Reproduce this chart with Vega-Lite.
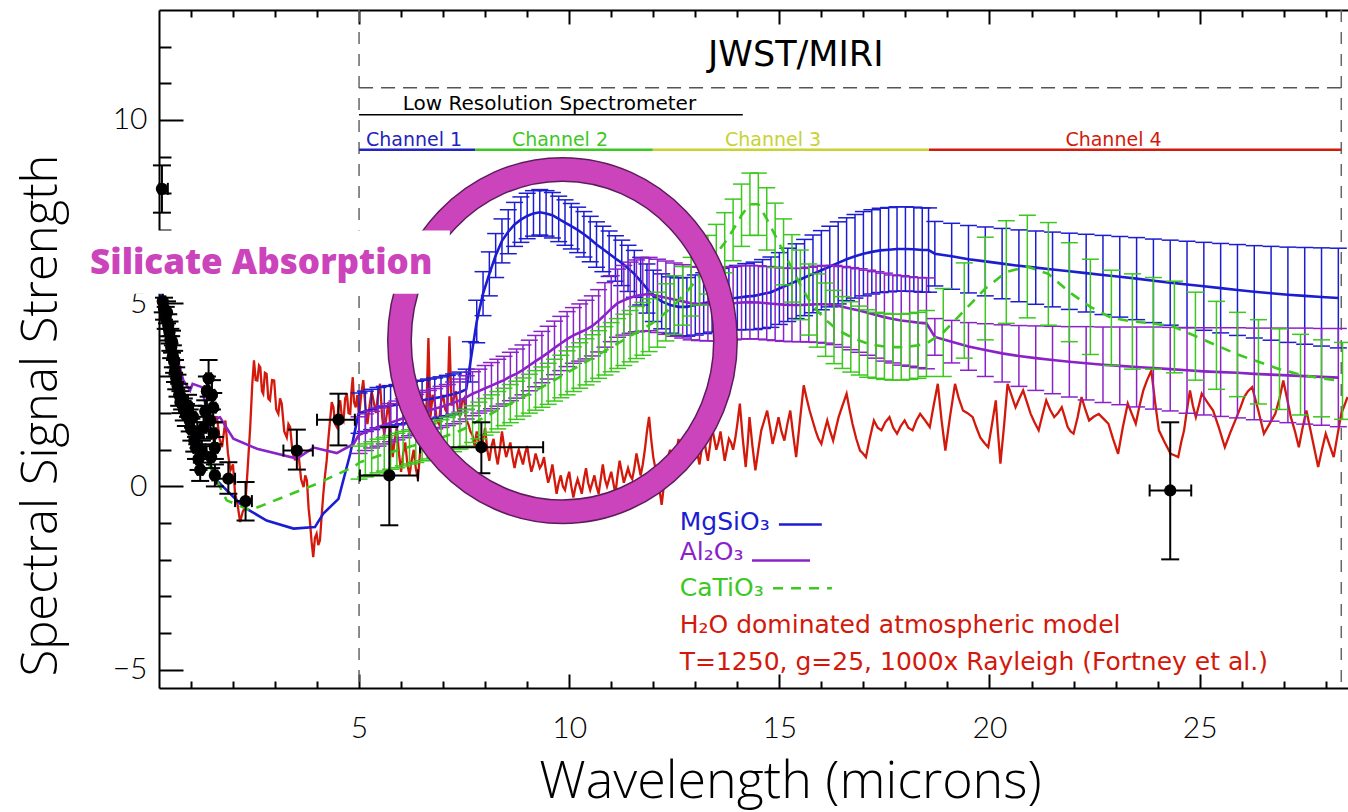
{
"$schema":"https://vega.github.io/schema/vega-lite/v6.json",
"width":1189,"height":678,
"autosize":{"type":"none"},
"padding":{"left":159,"top":10,"right":0,"bottom":124},
"background":"white",
"config":{"view":{"stroke":null},"axis":{"grid":false}},
"resolve":{"axis":{"x":"independent","y":"independent"}},
"datasets":{
"vl":[{"x":5},{"x":28.37}],
"ring":[{"x":9.84,"y":3.98}],
"box":[{"x":-1.59,"x2":7.16,"y":5.26,"y2":6.98}],
"sil":[{"x":-1.4,"y":6.1,"t":"Silicate Absorption"}],
"segs":[
{"k":"dash","x":5,"x2":28.37,"y":10.88},
{"k":"lrs","x":5,"x2":14.13,"y":10.14},
{"k":"c1","x":5,"x2":7.76,"y":9.19},
{"k":"c2","x":7.76,"x2":11.99,"y":9.19},
{"k":"c3","x":11.99,"x2":18.56,"y":9.19},
{"k":"c4","x":18.56,"x2":28.37,"y":9.19},
{"k":"b","x":14.99,"x2":16.01,"y":-1.04},
{"k":"p","x":14.35,"x2":15.73,"y":-2.02},
{"k":"g","x":14.85,"x2":16.25,"y":-2.78}
],
"notes":[
{"k":"title","x":15.39,"y":11.78,"t":"JWST/MIRI"},
{"k":"lrs","x":9.53,"y":10.44,"t":"Low Resolution Spectrometer"},
{"k":"c1","x":6.31,"y":9.45,"t":"Channel 1"},
{"k":"c2","x":9.78,"y":9.45,"t":"Channel 2"},
{"k":"c3","x":14.85,"y":9.45,"t":"Channel 3"},
{"k":"c4","x":22.95,"y":9.45,"t":"Channel 4"},
{"k":"b","x":12.63,"y":-0.98,"t":"MgSiO₃"},
{"k":"p","x":12.63,"y":-1.8,"t":"Al₂O₃"},
{"k":"g","x":12.63,"y":-2.76,"t":"CaTiO₃"},
{"k":"r","x":12.63,"y":-3.79,"t":"H₂O dominated atmospheric model"},
{"k":"r","x":12.63,"y":-4.8,"t":"T=1250, g=25, 1000x Rayleigh (Fortney et al.)"}
],
"obs":[
{"x":0.31,"y":8.12,"ylo":7.47,"yhi":8.76,"xlo":0.25,"xhi":0.45},
{"x":0.33,"y":5.05,"ylo":4.75,"yhi":5.35,"xlo":0.27,"xhi":0.39},
{"x":0.36,"y":4.85,"ylo":4.55,"yhi":5.15,"xlo":0.3,"xhi":0.42},
{"x":0.4,"y":4.6,"ylo":4.3,"yhi":4.9,"xlo":0.34,"xhi":0.46},
{"x":0.43,"y":4.75,"ylo":4.45,"yhi":5.05,"xlo":0.37,"xhi":0.49},
{"x":0.46,"y":4.4,"ylo":4.1,"yhi":4.7,"xlo":0.4,"xhi":0.52},
{"x":0.49,"y":4.2,"ylo":3.9,"yhi":4.5,"xlo":0.43,"xhi":0.55},
{"x":0.51,"y":4.0,"ylo":3.7,"yhi":4.3,"xlo":0.45,"xhi":0.57},
{"x":0.53,"y":3.8,"ylo":3.5,"yhi":4.1,"xlo":0.47,"xhi":0.59},
{"x":0.55,"y":3.95,"ylo":3.65,"yhi":4.25,"xlo":0.49,"xhi":0.61},
{"x":0.57,"y":3.55,"ylo":3.25,"yhi":3.85,"xlo":0.51,"xhi":0.63},
{"x":0.6,"y":3.4,"ylo":3.1,"yhi":3.7,"xlo":0.54,"xhi":0.66},
{"x":0.62,"y":3.15,"ylo":2.85,"yhi":3.45,"xlo":0.56,"xhi":0.68},
{"x":0.65,"y":2.95,"ylo":2.65,"yhi":3.25,"xlo":0.59,"xhi":0.71},
{"x":0.68,"y":2.75,"ylo":2.45,"yhi":3.05,"xlo":0.62,"xhi":0.74},
{"x":0.72,"y":2.5,"ylo":2.2,"yhi":2.8,"xlo":0.66,"xhi":0.78},
{"x":0.75,"y":2.3,"ylo":2.0,"yhi":2.6,"xlo":0.69,"xhi":0.81},
{"x":0.79,"y":2.4,"ylo":2.1,"yhi":2.7,"xlo":0.73,"xhi":0.85},
{"x":0.83,"y":2.1,"ylo":1.8,"yhi":2.4,"xlo":0.77,"xhi":0.89},
{"x":0.88,"y":1.95,"ylo":1.65,"yhi":2.25,"xlo":0.82,"xhi":0.94},
{"x":0.93,"y":2.2,"ylo":1.9,"yhi":2.5,"xlo":0.87,"xhi":0.99},
{"x":0.97,"y":1.8,"ylo":1.5,"yhi":2.1,"xlo":0.91,"xhi":1.03},
{"x":1.01,"y":1.55,"ylo":1.25,"yhi":1.85,"xlo":0.95,"xhi":1.07},
{"x":1.05,"y":1.9,"ylo":1.6,"yhi":2.2,"xlo":0.99,"xhi":1.11},
{"x":1.08,"y":1.25,"ylo":0.95,"yhi":1.55,"xlo":1.02,"xhi":1.14},
{"x":1.12,"y":1.05,"ylo":0.75,"yhi":1.35,"xlo":1.06,"xhi":1.18},
{"x":1.15,"y":1.45,"ylo":1.15,"yhi":1.75,"xlo":1.09,"xhi":1.21},
{"x":1.18,"y":0.75,"ylo":0.45,"yhi":1.05,"xlo":1.12,"xhi":1.24},
{"x":1.22,"y":0.45,"ylo":0.15,"yhi":0.75,"xlo":1.16,"xhi":1.28},
{"x":1.26,"y":0.95,"ylo":0.65,"yhi":1.25,"xlo":1.2,"xhi":1.32},
{"x":1.3,"y":1.6,"ylo":1.3,"yhi":1.9,"xlo":1.24,"xhi":1.36},
{"x":1.34,"y":2.05,"ylo":1.75,"yhi":2.35,"xlo":1.28,"xhi":1.4},
{"x":1.38,"y":2.6,"ylo":2.2,"yhi":3.0,"xlo":1.32,"xhi":1.44},
{"x":1.42,"y":2.95,"ylo":2.45,"yhi":3.45,"xlo":1.36,"xhi":1.48},
{"x":1.46,"y":1.8,"ylo":1.5,"yhi":2.1,"xlo":1.4,"xhi":1.52},
{"x":1.48,"y":0.8,"ylo":0.5,"yhi":1.1,"xlo":1.42,"xhi":1.54},
{"x":1.5,"y":2.5,"ylo":2.1,"yhi":2.9,"xlo":1.44,"xhi":1.56},
{"x":1.53,"y":2.15,"ylo":1.75,"yhi":2.55,"xlo":1.47,"xhi":1.59},
{"x":1.54,"y":1.45,"ylo":1.15,"yhi":1.75,"xlo":1.48,"xhi":1.6},
{"x":1.57,"y":1.05,"ylo":0.75,"yhi":1.35,"xlo":1.51,"xhi":1.63},
{"x":1.57,"y":0.3,"ylo":0.0,"yhi":0.6,"xlo":1.51,"xhi":1.63},
{"x":1.89,"y":0.21,"ylo":-0.2,"yhi":0.66,"xlo":1.61,"xhi":2.05},
{"x":2.3,"y":-0.4,"ylo":-0.93,"yhi":0.12,"xlo":2.05,"xhi":2.45},
{"x":3.52,"y":0.98,"ylo":0.46,"yhi":1.55,"xlo":3.2,"xhi":3.9},
{"x":4.51,"y":1.82,"ylo":1.12,"yhi":2.53,"xlo":4.0,"xhi":4.9},
{"x":5.72,"y":0.3,"ylo":-1.06,"yhi":1.62,"xlo":5.02,"xhi":6.4},
{"x":7.91,"y":1.07,"ylo":0.36,"yhi":1.75,"xlo":6.45,"xhi":9.38},
{"x":24.3,"y":-0.11,"ylo":-1.99,"yhi":1.75,"xlo":23.81,"xhi":24.8}
],
"red":[
{"x":1.55,"y":1.9},{"x":1.62,"y":1.89},{"x":1.68,"y":1.3},{"x":1.74,"y":1.07},{"x":1.82,"y":1.8},{"x":1.88,"y":0.9},{"x":1.94,"y":0.44},{"x":2.0,"y":0.6},{"x":2.05,"y":-0.2},{"x":2.11,"y":-0.5},{"x":2.17,"y":-0.97},{"x":2.23,"y":-0.7},{"x":2.29,"y":-0.56},{"x":2.35,"y":0.5},{"x":2.41,"y":1.62},{"x":2.46,"y":2.8},{"x":2.5,"y":3.44},{"x":2.54,"y":2.9},{"x":2.58,"y":2.89},{"x":2.62,"y":3.3},{"x":2.65,"y":3.25},{"x":2.69,"y":2.6},{"x":2.72,"y":2.53},{"x":2.76,"y":3.1},{"x":2.8,"y":3.07},{"x":2.84,"y":2.4},{"x":2.88,"y":2.35},{"x":2.93,"y":2.9},{"x":2.98,"y":2.89},{"x":3.03,"y":2.1},{"x":3.08,"y":1.98},{"x":3.12,"y":2.4},{"x":3.16,"y":2.26},{"x":3.22,"y":1.5},{"x":3.28,"y":1.34},{"x":3.32,"y":1.7},{"x":3.36,"y":1.62},{"x":3.42,"y":0.9},{"x":3.48,"y":0.71},{"x":3.52,"y":1.0},{"x":3.56,"y":0.89},{"x":3.62,"y":0.2},{"x":3.68,"y":-0.02},{"x":3.72,"y":0.3},{"x":3.76,"y":0.16},{"x":3.8,"y":-0.6},{"x":3.83,"y":-0.93},{"x":3.87,"y":-1.5},{"x":3.91,"y":-1.93},{"x":3.95,"y":-1.4},{"x":3.99,"y":-1.29},{"x":4.03,"y":-1.6},{"x":4.07,"y":-1.47},{"x":4.11,"y":-0.8},{"x":4.15,"y":-0.2},{"x":4.19,"y":0.3},{"x":4.23,"y":0.71},{"x":4.27,"y":1.3},{"x":4.31,"y":1.8},{"x":4.35,"y":2.3},{"x":4.39,"y":2.16},{"x":4.43,"y":1.7},{"x":4.47,"y":1.62},{"x":4.51,"y":2.2},{"x":4.55,"y":2.35},{"x":4.59,"y":1.9},{"x":4.63,"y":1.8},{"x":4.67,"y":2.4},{"x":4.71,"y":2.53},{"x":4.75,"y":2.0},{"x":4.79,"y":1.98},{"x":4.82,"y":2.6},{"x":4.85,"y":2.98},{"x":4.88,"y":2.3},{"x":4.92,"y":2.16},{"x":4.96,"y":2.5},
{"x":5.0,"y":1.9},{"x":5.05,"y":2.5},{"x":5.1,"y":2.9},{"x":5.15,"y":2.2},{"x":5.2,"y":1.7},{"x":5.25,"y":2.2},{"x":5.3,"y":2.6},{"x":5.35,"y":2.3},{"x":5.4,"y":2.0},{"x":5.45,"y":2.5},{"x":5.5,"y":2.8},{"x":5.55,"y":1.9},{"x":5.6,"y":1.4},{"x":5.65,"y":1.9},{"x":5.7,"y":2.3},{"x":5.75,"y":1.5},{"x":5.8,"y":0.8},{"x":5.85,"y":1.3},{"x":5.9,"y":1.6},{"x":5.95,"y":0.9},{"x":6.0,"y":0.4},{"x":6.05,"y":0.9},{"x":6.1,"y":1.2},{"x":6.15,"y":0.6},{"x":6.2,"y":0.3},{"x":6.25,"y":0.7},{"x":6.3,"y":1.0},{"x":6.35,"y":0.5},{"x":6.4,"y":0.2},{"x":6.45,"y":0.9},{"x":6.5,"y":1.6},{"x":6.55,"y":2.2},{"x":6.6,"y":2.0},{"x":6.65,"y":4.05},{"x":6.7,"y":1.9},{"x":6.75,"y":2.5},{"x":6.8,"y":2.3},{"x":6.85,"y":1.8},{"x":6.9,"y":1.7},{"x":6.95,"y":2.3},{"x":7.0,"y":2.5},{"x":7.05,"y":2.1},{"x":7.1,"y":2.0},{"x":7.15,"y":4.1},{"x":7.2,"y":2.2},{"x":7.25,"y":2.4},{"x":7.3,"y":2.6},{"x":7.35,"y":2.1},{"x":7.4,"y":1.9},{"x":7.45,"y":2.3},{"x":7.5,"y":2.4},{"x":7.55,"y":1.8},{"x":7.6,"y":1.7},{"x":7.65,"y":1.5},
{"x":7.7,"y":1.4},{"x":7.75,"y":1.1},{"x":7.8,"y":1.5},{"x":7.85,"y":1.2},{"x":7.9,"y":0.9},{"x":7.95,"y":1.3},{"x":8.0,"y":1.6},{"x":8.05,"y":1.0},{"x":8.1,"y":0.7},{"x":8.15,"y":1.1},{"x":8.2,"y":1.3},{"x":8.25,"y":0.9},{"x":8.3,"y":0.6},{"x":8.35,"y":1.0},{"x":8.4,"y":1.5},{"x":8.45,"y":1.1},{"x":8.5,"y":0.8},{"x":8.55,"y":1.0},{"x":8.6,"y":1.2},{"x":8.65,"y":0.8},{"x":8.7,"y":0.5},{"x":8.75,"y":0.8},{"x":8.8,"y":1.0},{"x":8.85,"y":0.8},{"x":8.9,"y":0.6},{"x":8.95,"y":0.9},{"x":9.0,"y":1.1},{"x":9.05,"y":0.7},{"x":9.1,"y":0.4},{"x":9.15,"y":0.6},{"x":9.2,"y":0.9},{"x":9.25,"y":0.7},{"x":9.3,"y":0.5},{"x":9.35,"y":0.6},{"x":9.4,"y":0.8},{"x":9.45,"y":0.4},{"x":9.5,"y":0.1},{"x":9.55,"y":0.3},{"x":9.6,"y":0.6},{"x":9.65,"y":0.2},{"x":9.7,"y":-0.2},{"x":9.75,"y":0.1},{"x":9.8,"y":0.3},{"x":9.85,"y":0.0},{"x":9.9,"y":-0.1},{"x":9.95,"y":0.2},{"x":10.0,"y":0.4},{"x":10.05,"y":0.0},{"x":10.1,"y":-0.3},{"x":10.15,"y":0.0},{"x":10.2,"y":0.2},{"x":10.25,"y":0.0},{"x":10.3,"y":-0.2},{"x":10.35,"y":0.2},{"x":10.4,"y":0.5},{"x":10.45,"y":0.1},{"x":10.5,"y":-0.1},{"x":10.55,"y":0.1},{"x":10.6,"y":0.3},{"x":10.65,"y":0.0},{"x":10.7,"y":-0.2},{"x":10.75,"y":0.2},{"x":10.8,"y":0.6},{"x":10.85,"y":0.2},{"x":10.9,"y":0.0},{"x":10.95,"y":0.2},{"x":11.0,"y":0.4},{"x":11.05,"y":0.1},{"x":11.1,"y":-0.2},{"x":11.15,"y":0.3},{"x":11.2,"y":0.7},{"x":11.25,"y":0.4},{"x":11.3,"y":0.1},{"x":11.35,"y":0.3},{"x":11.4,"y":0.5},{"x":11.45,"y":0.3},{"x":11.5,"y":0.2},{"x":11.55,"y":0.5},{"x":11.6,"y":0.9},{"x":11.65,"y":0.6},{"x":11.7,"y":0.3},{"x":11.75,"y":0.6},{"x":11.8,"y":1.0},{"x":11.85,"y":1.5},{"x":11.9,"y":1.9},{"x":11.95,"y":1.3},{"x":12.0,"y":0.8},{"x":12.05,"y":0.5},{"x":12.1,"y":0.2},{"x":12.15,"y":-0.1},{"x":12.2,"y":-0.5},{"x":12.25,"y":0.0},{"x":12.3,"y":0.5},{"x":12.35,"y":0.8},{"x":12.4,"y":1.0},{"x":12.45,"y":0.7},{"x":12.5,"y":0.4},{"x":12.55,"y":0.9},{"x":12.6,"y":1.3},{"x":12.65,"y":0.9},{"x":12.7,"y":0.6},{"x":12.75,"y":1.0},{"x":12.8,"y":1.5},{"x":12.85,"y":1.1},{"x":12.9,"y":0.8},{"x":12.95,"y":1.0},{"x":13.0,"y":1.2},{"x":13.05,"y":0.9},{"x":13.1,"y":0.6},{"x":13.15,"y":1.0},{"x":13.2,"y":1.4},{"x":13.25,"y":1.0},{"x":13.3,"y":0.7},{"x":13.35,"y":1.1},{"x":13.4,"y":1.6},{"x":13.45,"y":1.3},{"x":13.5,"y":1.0},{"x":13.55,"y":1.2},{"x":13.6,"y":1.5},{"x":13.65,"y":1.1},{"x":13.7,"y":0.7},{"x":13.75,"y":1.0},{"x":13.8,"y":1.3},{"x":13.85,"y":1.2},{"x":13.9,"y":1.0},{"x":13.95,"y":1.3},{"x":14.0,"y":1.7},
{"x":14.06,"y":2.26},{"x":14.13,"y":1.3},{"x":14.2,"y":0.53},{"x":14.25,"y":1.2},{"x":14.29,"y":1.89},{"x":14.36,"y":1.1},{"x":14.43,"y":0.44},{"x":14.5,"y":1.0},{"x":14.57,"y":1.53},{"x":14.64,"y":1.8},{"x":14.71,"y":2.07},{"x":14.78,"y":1.6},{"x":14.84,"y":1.16},{"x":14.91,"y":1.5},{"x":14.98,"y":1.89},{"x":15.05,"y":1.5},{"x":15.12,"y":1.25},{"x":15.19,"y":1.7},{"x":15.26,"y":2.07},{"x":15.33,"y":1.4},{"x":15.4,"y":0.8},{"x":15.49,"y":1.8},{"x":15.58,"y":2.76},{"x":15.65,"y":2.4},{"x":15.72,"y":2.07},{"x":15.79,"y":1.8},{"x":15.86,"y":1.53},{"x":15.93,"y":1.3},{"x":16.0,"y":1.16},{"x":16.07,"y":1.5},{"x":16.14,"y":1.8},{"x":16.21,"y":1.5},{"x":16.28,"y":1.25},{"x":16.35,"y":1.6},{"x":16.41,"y":1.89},{"x":16.5,"y":2.2},{"x":16.6,"y":2.53},{"x":16.67,"y":2.1},{"x":16.74,"y":1.71},{"x":16.83,"y":1.3},{"x":16.92,"y":0.98},{"x":16.99,"y":0.9},{"x":17.06,"y":0.8},{"x":17.15,"y":1.3},{"x":17.25,"y":1.8},{"x":17.34,"y":1.6},{"x":17.43,"y":1.53},{"x":17.52,"y":1.75},{"x":17.62,"y":1.89},{"x":17.71,"y":1.6},{"x":17.8,"y":1.44},{"x":17.89,"y":1.65},{"x":17.98,"y":1.8},{"x":18.07,"y":1.6},{"x":18.17,"y":1.53},{"x":18.26,"y":1.8},{"x":18.35,"y":1.98},{"x":18.47,"y":1.8},{"x":18.58,"y":1.62},{"x":18.67,"y":2.2},{"x":18.77,"y":2.8},{"x":18.86,"y":1.8},{"x":18.95,"y":0.98},{"x":19.06,"y":1.9},{"x":19.18,"y":2.8},{"x":19.27,"y":2.4},{"x":19.37,"y":2.07},{"x":19.48,"y":2.0},{"x":19.6,"y":1.89},{"x":19.69,"y":1.6},{"x":19.78,"y":1.34},{"x":19.87,"y":1.2},{"x":19.97,"y":1.07},{"x":20.06,"y":1.7},{"x":20.15,"y":2.35},{"x":20.2,"y":1.5},{"x":20.26,"y":0.62},{"x":20.35,"y":1.7},{"x":20.43,"y":2.8},{"x":20.52,"y":2.5},{"x":20.62,"y":2.16},{"x":20.71,"y":2.4},{"x":20.8,"y":2.62},{"x":20.89,"y":2.3},{"x":20.98,"y":1.98},{"x":21.07,"y":1.75},{"x":21.17,"y":1.53},{"x":21.26,"y":1.95},{"x":21.35,"y":2.35},{"x":21.44,"y":2.1},{"x":21.54,"y":1.89},{"x":21.63,"y":2.0},{"x":21.72,"y":2.16},{"x":21.79,"y":1.9},{"x":21.86,"y":1.62},{"x":21.93,"y":1.5},{"x":22.0,"y":1.44},{"x":22.1,"y":1.9},{"x":22.19,"y":2.44},{"x":22.28,"y":2.1},{"x":22.37,"y":1.8},{"x":22.48,"y":1.9},{"x":22.6,"y":1.98},{"x":22.71,"y":1.85},{"x":22.83,"y":1.71},{"x":22.94,"y":1.3},{"x":23.06,"y":0.89},{"x":23.17,"y":1.6},{"x":23.29,"y":2.26},{"x":23.38,"y":2.0},{"x":23.48,"y":1.71},{"x":23.57,"y":2.2},{"x":23.66,"y":2.62},{"x":23.75,"y":2.9},{"x":23.85,"y":3.16},{"x":23.94,"y":2.3},{"x":24.03,"y":1.53},{"x":24.17,"y":1.2},{"x":24.31,"y":0.89},{"x":24.4,"y":0.85},{"x":24.49,"y":0.8},{"x":24.56,"y":1.2},{"x":24.63,"y":1.53},{"x":24.7,"y":2.1},{"x":24.77,"y":2.62},{"x":24.84,"y":2.2},{"x":24.91,"y":1.89},{"x":24.98,"y":2.2},{"x":25.05,"y":2.53},{"x":25.18,"y":2.3},{"x":25.32,"y":2.07},{"x":25.46,"y":1.6},{"x":25.6,"y":1.07},{"x":25.74,"y":1.5},{"x":25.88,"y":1.89},{"x":25.97,"y":2.15},{"x":26.06,"y":2.44},{"x":26.15,"y":2.6},{"x":26.25,"y":2.71},{"x":26.39,"y":2.1},{"x":26.53,"y":1.44},{"x":26.66,"y":1.7},{"x":26.8,"y":1.98},{"x":26.9,"y":2.4},{"x":26.99,"y":2.89},{"x":27.08,"y":2.4},{"x":27.17,"y":1.89},{"x":27.27,"y":1.5},{"x":27.36,"y":1.07},{"x":27.45,"y":1.6},{"x":27.54,"y":2.07},{"x":27.68,"y":1.3},{"x":27.82,"y":0.53},{"x":27.91,"y":1.0},{"x":28.0,"y":1.44},{"x":28.1,"y":1.1},{"x":28.19,"y":0.8},{"x":28.28,"y":1.4},{"x":28.37,"y":1.98},{"x":28.52,"y":2.44}
],
"mod":[
{"s":"b","x":0.27,"y":5.3},{"s":"b","x":0.5,"y":4.2},{"s":"b","x":0.8,"y":2.6},{"s":"b","x":1.1,"y":1.5},{"s":"b","x":1.38,"y":0.8},{"s":"b","x":1.62,"y":0.16},{"s":"b","x":2.25,"y":-0.56},{"s":"b","x":2.8,"y":-0.93},{"s":"b","x":3.44,"y":-1.15},{"s":"b","x":3.95,"y":-1.11},{"s":"b","x":4.15,"y":-0.74},{"s":"b","x":4.51,"y":-0.34},{"s":"b","x":4.79,"y":0.89},{"s":"b","x":4.98,"y":1.95},
{"s":"b","x":5.0,"y":2.0,"e":0.55},{"s":"b","x":5.15,"y":2.05,"e":0.55},{"s":"b","x":5.3,"y":2.1,"e":0.55},{"s":"b","x":5.45,"y":2.15,"e":0.55},{"s":"b","x":5.6,"y":2.18,"e":0.55},{"s":"b","x":5.75,"y":2.2,"e":0.55},{"s":"b","x":5.9,"y":2.23,"e":0.55},{"s":"b","x":6.05,"y":2.26,"e":0.55},{"s":"b","x":6.2,"y":2.29,"e":0.55},{"s":"b","x":6.35,"y":2.32,"e":0.55},{"s":"b","x":6.5,"y":2.35,"e":0.55},{"s":"b","x":6.65,"y":2.38,"e":0.55},{"s":"b","x":6.8,"y":2.41,"e":0.55},{"s":"b","x":6.95,"y":2.44,"e":0.55},{"s":"b","x":7.1,"y":2.48,"e":0.55},{"s":"b","x":7.25,"y":2.52,"e":0.55},{"s":"b","x":7.4,"y":2.57,"e":0.55},{"s":"b","x":7.55,"y":2.65,"e":0.55},
{"s":"b","x":7.65,"y":3.4,"e":0.55},{"s":"b","x":7.8,"y":4.5,"e":0.58},{"s":"b","x":7.95,"y":5.26,"e":0.6},{"s":"b","x":8.1,"y":5.8,"e":0.6},{"s":"b","x":8.25,"y":6.3,"e":0.6},{"s":"b","x":8.4,"y":6.7,"e":0.6},{"s":"b","x":8.55,"y":6.95,"e":0.6},{"s":"b","x":8.7,"y":7.15,"e":0.6},{"s":"b","x":8.85,"y":7.28,"e":0.62},{"s":"b","x":9.0,"y":7.38,"e":0.62},{"s":"b","x":9.15,"y":7.45,"e":0.62},{"s":"b","x":9.3,"y":7.48,"e":0.62},{"s":"b","x":9.45,"y":7.45,"e":0.62},{"s":"b","x":9.6,"y":7.4,"e":0.62},{"s":"b","x":9.75,"y":7.3,"e":0.62},{"s":"b","x":9.9,"y":7.2,"e":0.62},{"s":"b","x":10.05,"y":7.1,"e":0.62},{"s":"b","x":10.2,"y":7.0,"e":0.62},{"s":"b","x":10.35,"y":6.88,"e":0.62},{"s":"b","x":10.5,"y":6.75,"e":0.62},{"s":"b","x":10.65,"y":6.6,"e":0.62},{"s":"b","x":10.8,"y":6.48,"e":0.62},{"s":"b","x":10.95,"y":6.35,"e":0.62},{"s":"b","x":11.1,"y":6.22,"e":0.62},{"s":"b","x":11.25,"y":6.1,"e":0.62},{"s":"b","x":11.4,"y":5.95,"e":0.63},{"s":"b","x":11.55,"y":5.8,"e":0.64},{"s":"b","x":11.7,"y":5.6,"e":0.65},{"s":"b","x":11.85,"y":5.4,"e":0.67},{"s":"b","x":12.0,"y":5.2,"e":0.7},
{"s":"b","x":12.2,"y":5.05,"e":0.75},{"s":"b","x":12.4,"y":4.95,"e":0.77},{"s":"b","x":12.6,"y":4.9,"e":0.79},{"s":"b","x":12.8,"y":4.9,"e":0.8},{"s":"b","x":13.0,"y":4.95,"e":0.82},{"s":"b","x":13.2,"y":5.0,"e":0.83},{"s":"b","x":13.4,"y":5.05,"e":0.84},{"s":"b","x":13.6,"y":5.1,"e":0.85},{"s":"b","x":13.8,"y":5.12,"e":0.86},{"s":"b","x":14.0,"y":5.15,"e":0.88},{"s":"b","x":14.2,"y":5.18,"e":0.9},{"s":"b","x":14.4,"y":5.2,"e":0.92},{"s":"b","x":14.6,"y":5.25,"e":0.94},{"s":"b","x":14.8,"y":5.3,"e":0.96},{"s":"b","x":15.0,"y":5.4,"e":0.98},{"s":"b","x":15.2,"y":5.5,"e":1.0},{"s":"b","x":15.4,"y":5.6,"e":1.02},{"s":"b","x":15.6,"y":5.7,"e":1.04},{"s":"b","x":15.8,"y":5.8,"e":1.06},{"s":"b","x":16.0,"y":5.9,"e":1.08},{"s":"b","x":16.2,"y":6.0,"e":1.1},{"s":"b","x":16.4,"y":6.1,"e":1.12},{"s":"b","x":16.6,"y":6.2,"e":1.13},{"s":"b","x":16.8,"y":6.28,"e":1.14},{"s":"b","x":17.0,"y":6.35,"e":1.15},{"s":"b","x":17.2,"y":6.4,"e":1.15},{"s":"b","x":17.4,"y":6.44,"e":1.15},{"s":"b","x":17.6,"y":6.46,"e":1.15},{"s":"b","x":17.8,"y":6.48,"e":1.15},{"s":"b","x":18.0,"y":6.48,"e":1.15},{"s":"b","x":18.2,"y":6.47,"e":1.15},{"s":"b","x":18.4,"y":6.45,"e":1.15},{"s":"b","x":18.55,"y":6.45,"e":1.15},
{"s":"b","x":18.7,"y":6.35,"e":0.88},{"s":"b","x":19.1,"y":6.28,"e":0.9},{"s":"b","x":19.5,"y":6.2,"e":0.92},{"s":"b","x":19.9,"y":6.14,"e":0.94},{"s":"b","x":20.3,"y":6.08,"e":0.96},{"s":"b","x":20.7,"y":6.02,"e":0.98},{"s":"b","x":21.1,"y":5.97,"e":1.0},{"s":"b","x":21.5,"y":5.92,"e":1.02},{"s":"b","x":21.9,"y":5.87,"e":1.04},{"s":"b","x":22.3,"y":5.82,"e":1.06},{"s":"b","x":22.7,"y":5.77,"e":1.08},{"s":"b","x":23.1,"y":5.72,"e":1.1},{"s":"b","x":23.5,"y":5.67,"e":1.12},{"s":"b","x":23.9,"y":5.61,"e":1.14},{"s":"b","x":24.3,"y":5.56,"e":1.16},{"s":"b","x":24.7,"y":5.51,"e":1.18},{"s":"b","x":25.1,"y":5.46,"e":1.2},{"s":"b","x":25.5,"y":5.41,"e":1.22},{"s":"b","x":25.9,"y":5.36,"e":1.24},{"s":"b","x":26.3,"y":5.31,"e":1.26},{"s":"b","x":26.7,"y":5.27,"e":1.28},{"s":"b","x":27.1,"y":5.23,"e":1.3},{"s":"b","x":27.5,"y":5.2,"e":1.32},{"s":"b","x":27.9,"y":5.17,"e":1.34},{"s":"b","x":28.3,"y":5.14,"e":1.36},
{"s":"p","x":0.27,"y":5.5},{"s":"p","x":0.34,"y":5.07},{"s":"p","x":0.6,"y":3.8},{"s":"p","x":0.82,"y":2.89},{"s":"p","x":0.98,"y":2.62},{"s":"p","x":1.04,"y":2.8},{"s":"p","x":1.26,"y":2.71},{"s":"p","x":1.42,"y":1.8},{"s":"p","x":1.69,"y":1.89},{"s":"p","x":2.01,"y":1.3},{"s":"p","x":2.57,"y":1.03},{"s":"p","x":3.52,"y":0.76},{"s":"p","x":3.92,"y":1.06},{"s":"p","x":4.47,"y":0.91},{"s":"p","x":4.87,"y":1.16},{"s":"p","x":4.98,"y":1.38},
{"s":"p","x":5.0,"y":1.4,"e":0.5},{"s":"p","x":5.15,"y":1.48,"e":0.5},{"s":"p","x":5.3,"y":1.55,"e":0.5},{"s":"p","x":5.45,"y":1.62,"e":0.52},{"s":"p","x":5.6,"y":1.68,"e":0.52},{"s":"p","x":5.75,"y":1.74,"e":0.52},{"s":"p","x":5.9,"y":1.8,"e":0.53},{"s":"p","x":6.05,"y":1.86,"e":0.53},{"s":"p","x":6.2,"y":1.92,"e":0.54},{"s":"p","x":6.35,"y":1.97,"e":0.54},{"s":"p","x":6.5,"y":2.02,"e":0.55},{"s":"p","x":6.65,"y":2.07,"e":0.55},{"s":"p","x":6.8,"y":2.12,"e":0.55},{"s":"p","x":6.95,"y":2.17,"e":0.56},{"s":"p","x":7.1,"y":2.22,"e":0.56},{"s":"p","x":7.25,"y":2.28,"e":0.57},{"s":"p","x":7.4,"y":2.35,"e":0.58},{"s":"p","x":7.55,"y":2.43,"e":0.59},
{"s":"p","x":7.7,"y":2.53,"e":0.6},{"s":"p","x":7.85,"y":2.6,"e":0.6},{"s":"p","x":8.0,"y":2.68,"e":0.62},{"s":"p","x":8.15,"y":2.75,"e":0.63},{"s":"p","x":8.3,"y":2.83,"e":0.64},{"s":"p","x":8.45,"y":2.9,"e":0.65},{"s":"p","x":8.6,"y":3.0,"e":0.66},{"s":"p","x":8.75,"y":3.08,"e":0.67},{"s":"p","x":8.9,"y":3.18,"e":0.68},{"s":"p","x":9.05,"y":3.3,"e":0.69},{"s":"p","x":9.2,"y":3.42,"e":0.7},{"s":"p","x":9.35,"y":3.53,"e":0.7},{"s":"p","x":9.5,"y":3.65,"e":0.72},{"s":"p","x":9.65,"y":3.78,"e":0.73},{"s":"p","x":9.8,"y":3.9,"e":0.74},{"s":"p","x":9.95,"y":4.02,"e":0.75},{"s":"p","x":10.1,"y":4.12,"e":0.76},{"s":"p","x":10.25,"y":4.2,"e":0.78},{"s":"p","x":10.4,"y":4.28,"e":0.8},{"s":"p","x":10.55,"y":4.38,"e":0.82},{"s":"p","x":10.7,"y":4.52,"e":0.85},{"s":"p","x":10.85,"y":4.68,"e":0.88},{"s":"p","x":11.0,"y":4.85,"e":0.9},{"s":"p","x":11.15,"y":5.0,"e":0.93},{"s":"p","x":11.3,"y":5.08,"e":0.95},{"s":"p","x":11.45,"y":5.15,"e":0.97},{"s":"p","x":11.6,"y":5.2,"e":0.98},{"s":"p","x":11.75,"y":5.23,"e":1.0},{"s":"p","x":11.9,"y":5.25,"e":1.0},
{"s":"p","x":12.1,"y":5.2,"e":1.0},{"s":"p","x":12.3,"y":5.15,"e":1.0},{"s":"p","x":12.5,"y":5.1,"e":1.0},{"s":"p","x":12.7,"y":5.05,"e":1.0},{"s":"p","x":12.9,"y":5.0,"e":1.0},{"s":"p","x":13.1,"y":4.98,"e":1.0},{"s":"p","x":13.3,"y":4.97,"e":1.0},{"s":"p","x":13.5,"y":4.97,"e":1.0},{"s":"p","x":13.7,"y":4.98,"e":1.0},{"s":"p","x":13.9,"y":5.0,"e":1.0},{"s":"p","x":14.1,"y":5.02,"e":1.0},{"s":"p","x":14.3,"y":5.03,"e":1.0},{"s":"p","x":14.5,"y":5.02,"e":1.0},{"s":"p","x":14.7,"y":5.0,"e":1.0},{"s":"p","x":14.9,"y":4.98,"e":1.0},{"s":"p","x":15.1,"y":4.96,"e":1.0},{"s":"p","x":15.3,"y":4.95,"e":1.0},{"s":"p","x":15.5,"y":4.95,"e":1.0},{"s":"p","x":15.7,"y":4.96,"e":1.02},{"s":"p","x":15.9,"y":4.97,"e":1.04},{"s":"p","x":16.1,"y":4.97,"e":1.06},{"s":"p","x":16.3,"y":4.95,"e":1.08},{"s":"p","x":16.5,"y":4.9,"e":1.1},{"s":"p","x":16.7,"y":4.85,"e":1.12},{"s":"p","x":16.9,"y":4.8,"e":1.14},{"s":"p","x":17.1,"y":4.74,"e":1.16},{"s":"p","x":17.3,"y":4.68,"e":1.18},{"s":"p","x":17.5,"y":4.62,"e":1.2},{"s":"p","x":17.7,"y":4.57,"e":1.2},{"s":"p","x":17.9,"y":4.53,"e":1.22},{"s":"p","x":18.1,"y":4.5,"e":1.22},{"s":"p","x":18.3,"y":4.47,"e":1.23},{"s":"p","x":18.5,"y":4.45,"e":1.24},
{"s":"p","x":18.7,"y":4.08,"e":0.5},{"s":"p","x":19.1,"y":3.95,"e":0.58},{"s":"p","x":19.5,"y":3.82,"e":0.65},{"s":"p","x":19.9,"y":3.72,"e":0.72},{"s":"p","x":20.3,"y":3.63,"e":0.78},{"s":"p","x":20.7,"y":3.56,"e":0.83},{"s":"p","x":21.1,"y":3.5,"e":0.88},{"s":"p","x":21.5,"y":3.45,"e":0.92},{"s":"p","x":21.9,"y":3.4,"e":0.96},{"s":"p","x":22.3,"y":3.36,"e":1.0},{"s":"p","x":22.7,"y":3.32,"e":1.03},{"s":"p","x":23.1,"y":3.29,"e":1.06},{"s":"p","x":23.5,"y":3.26,"e":1.09},{"s":"p","x":23.9,"y":3.23,"e":1.12},{"s":"p","x":24.3,"y":3.2,"e":1.14},{"s":"p","x":24.7,"y":3.17,"e":1.17},{"s":"p","x":25.1,"y":3.14,"e":1.19},{"s":"p","x":25.5,"y":3.12,"e":1.21},{"s":"p","x":25.9,"y":3.1,"e":1.23},{"s":"p","x":26.3,"y":3.07,"e":1.25},{"s":"p","x":26.7,"y":3.05,"e":1.27},{"s":"p","x":27.1,"y":3.03,"e":1.29},{"s":"p","x":27.5,"y":3.01,"e":1.31},{"s":"p","x":27.9,"y":2.99,"e":1.32},{"s":"p","x":28.3,"y":2.97,"e":1.34},
{"s":"g","x":1.1,"y":1.5},{"s":"g","x":1.3,"y":0.89},{"s":"g","x":1.85,"y":-0.38},{"s":"g","x":2.41,"y":-0.65},{"s":"g","x":3.2,"y":-0.29},{"s":"g","x":3.99,"y":0.07},{"s":"g","x":4.86,"y":0.53},{"s":"g","x":4.98,"y":0.62},
{"s":"g","x":5.0,"y":0.65,"e":0.45},{"s":"g","x":5.15,"y":0.71,"e":0.45},{"s":"g","x":5.3,"y":0.77,"e":0.45},{"s":"g","x":5.45,"y":0.83,"e":0.46},{"s":"g","x":5.6,"y":0.88,"e":0.46},{"s":"g","x":5.75,"y":0.93,"e":0.46},{"s":"g","x":5.9,"y":0.98,"e":0.47},{"s":"g","x":6.05,"y":1.03,"e":0.47},{"s":"g","x":6.2,"y":1.08,"e":0.47},{"s":"g","x":6.35,"y":1.13,"e":0.48},{"s":"g","x":6.5,"y":1.18,"e":0.48},{"s":"g","x":6.65,"y":1.23,"e":0.48},{"s":"g","x":6.8,"y":1.28,"e":0.49},{"s":"g","x":6.95,"y":1.33,"e":0.49},{"s":"g","x":7.1,"y":1.39,"e":0.49},{"s":"g","x":7.25,"y":1.45,"e":0.5},{"s":"g","x":7.4,"y":1.52,"e":0.5},{"s":"g","x":7.55,"y":1.6,"e":0.5},
{"s":"g","x":7.7,"y":1.7,"e":0.5},{"s":"g","x":7.85,"y":1.8,"e":0.5},{"s":"g","x":8.0,"y":1.9,"e":0.5},{"s":"g","x":8.15,"y":1.99,"e":0.51},{"s":"g","x":8.3,"y":2.08,"e":0.51},{"s":"g","x":8.45,"y":2.17,"e":0.51},{"s":"g","x":8.6,"y":2.26,"e":0.52},{"s":"g","x":8.75,"y":2.35,"e":0.52},{"s":"g","x":8.9,"y":2.44,"e":0.52},{"s":"g","x":9.05,"y":2.53,"e":0.53},{"s":"g","x":9.2,"y":2.62,"e":0.54},{"s":"g","x":9.35,"y":2.71,"e":0.55},{"s":"g","x":9.5,"y":2.8,"e":0.56},{"s":"g","x":9.65,"y":2.9,"e":0.57},{"s":"g","x":9.8,"y":3.0,"e":0.58},{"s":"g","x":9.95,"y":3.1,"e":0.6},{"s":"g","x":10.1,"y":3.2,"e":0.61},{"s":"g","x":10.25,"y":3.3,"e":0.62},{"s":"g","x":10.4,"y":3.4,"e":0.63},{"s":"g","x":10.55,"y":3.5,"e":0.64},{"s":"g","x":10.7,"y":3.6,"e":0.65},{"s":"g","x":10.85,"y":3.7,"e":0.66},{"s":"g","x":11.0,"y":3.8,"e":0.67},{"s":"g","x":11.15,"y":3.9,"e":0.68},{"s":"g","x":11.3,"y":4.0,"e":0.7},{"s":"g","x":11.45,"y":4.1,"e":0.7},{"s":"g","x":11.6,"y":4.2,"e":0.71},{"s":"g","x":11.75,"y":4.3,"e":0.72},{"s":"g","x":11.9,"y":4.4,"e":0.72},
{"s":"g","x":12.1,"y":4.55,"e":0.75},{"s":"g","x":12.3,"y":4.75,"e":0.78},{"s":"g","x":12.5,"y":4.95,"e":0.8},{"s":"g","x":12.7,"y":5.2,"e":0.8},{"s":"g","x":12.9,"y":5.45,"e":0.8},{"s":"g","x":13.1,"y":5.75,"e":0.8},{"s":"g","x":13.3,"y":6.05,"e":0.8},{"s":"g","x":13.5,"y":6.35,"e":0.8},{"s":"g","x":13.7,"y":6.65,"e":0.82},{"s":"g","x":13.9,"y":7.0,"e":0.84},{"s":"g","x":14.1,"y":7.4,"e":0.85},{"s":"g","x":14.3,"y":7.7,"e":0.85},{"s":"g","x":14.5,"y":7.7,"e":0.85},{"s":"g","x":14.7,"y":7.3,"e":0.85},{"s":"g","x":14.9,"y":6.85,"e":0.88},{"s":"g","x":15.1,"y":6.4,"e":0.9},{"s":"g","x":15.3,"y":5.95,"e":0.92},{"s":"g","x":15.5,"y":5.5,"e":0.95},{"s":"g","x":15.7,"y":5.1,"e":0.97},{"s":"g","x":15.9,"y":4.8,"e":1.0},{"s":"g","x":16.1,"y":4.55,"e":1.0},{"s":"g","x":16.3,"y":4.35,"e":1.0},{"s":"g","x":16.5,"y":4.2,"e":0.98},{"s":"g","x":16.7,"y":4.08,"e":0.96},{"s":"g","x":16.9,"y":3.98,"e":0.94},{"s":"g","x":17.1,"y":3.9,"e":0.92},{"s":"g","x":17.3,"y":3.85,"e":0.9},{"s":"g","x":17.5,"y":3.82,"e":0.9},{"s":"g","x":17.7,"y":3.8,"e":0.9},{"s":"g","x":17.9,"y":3.8,"e":0.9},{"s":"g","x":18.1,"y":3.82,"e":0.9},{"s":"g","x":18.3,"y":3.85,"e":0.9},{"s":"g","x":18.5,"y":3.9,"e":0.9},
{"s":"g","x":18.9,"y":4.2,"e":1.2},{"s":"g","x":19.4,"y":4.8,"e":1.3},{"s":"g","x":19.9,"y":5.4,"e":1.4},{"s":"g","x":20.4,"y":5.85,"e":1.4},{"s":"g","x":20.9,"y":6.0,"e":1.4},{"s":"g","x":21.4,"y":5.8,"e":1.4},{"s":"g","x":21.9,"y":5.3,"e":1.35},{"s":"g","x":22.4,"y":4.9,"e":1.3},{"s":"g","x":22.9,"y":4.6,"e":1.3},{"s":"g","x":23.4,"y":4.5,"e":1.3},{"s":"g","x":23.9,"y":4.45,"e":1.25},{"s":"g","x":24.4,"y":4.35,"e":1.25},{"s":"g","x":24.9,"y":4.1,"e":1.2},{"s":"g","x":25.4,"y":3.85,"e":1.2},{"s":"g","x":25.9,"y":3.6,"e":1.15},{"s":"g","x":26.4,"y":3.4,"e":1.15},{"s":"g","x":26.9,"y":3.2,"e":1.1},{"s":"g","x":27.4,"y":3.05,"e":1.1},{"s":"g","x":27.9,"y":2.95,"e":1.05},{"s":"g","x":28.4,"y":2.88,"e":1.05}
]
},
"layer":[
{"data":{"name":"vl"},"mark":{"type":"rule","color":"#666666","strokeDash":[12,10],"strokeWidth":1.5},
 "encoding":{"x":{"field":"x","type":"quantitative","scale":{"domain":[0.24,28.53],"nice":false,"zero":false},
  "axis":{"orient":"top","values":[5,10,15,20,25],"labels":false,"ticks":false,"tickSize":0,"title":null,"grid":false,"domainColor":"black","domainWidth":2}}}},
{"data":{"name":"segs"},"transform":[{"filter":"datum.k === 'lrs'"}],"mark":{"type":"rule","color":"black","strokeWidth":1.5},
 "encoding":{"x":{"field":"x","type":"quantitative","scale":{"domain":[0.24,28.53],"nice":false,"zero":false},
   "axis":{"orient":"top","values":[5,10,15,20,25],"tickSize":-14,"labels":false,"title":null,"grid":false,"domain":false,"tickWidth":2,"tickColor":"black"}},"x2":{"field":"x2"},
  "y":{"field":"y","type":"quantitative","scale":{"domain":[-5.5,13],"nice":false,"zero":false},
   "axis":{"orient":"left","values":[-4,-3,-2,-1,1,2,3,4,6,7,8,9,11,12],"tickSize":-12,"labels":false,"title":null,"grid":false,"domain":false,"tickWidth":2,"tickColor":"black"}}}},
{"data":{"name":"segs"},"transform":[{"filter":"datum.k === 'dash'"}],"mark":{"type":"rule","color":"#555555","strokeDash":[14,8],"strokeWidth":1.5},
 "encoding":{"x":{"field":"x","type":"quantitative","scale":{"domain":[0.24,28.53],"nice":false,"zero":false},
   "axis":{"orient":"bottom","values":[5,10,15,20,25],"tickSize":-14,"labels":false,"title":null,"grid":false,"domain":false,"tickWidth":2,"tickColor":"black"}},"x2":{"field":"x2"},
  "y":{"field":"y","type":"quantitative","scale":{"domain":[-5.5,13],"nice":false,"zero":false},
   "axis":{"orient":"left","values":[-5,0,5,10],"tickSize":-24,"labels":false,"title":null,"grid":false,"domain":false,"tickWidth":2,"tickColor":"black"}}}},
{"data":{"name":"red"},"mark":{"type":"line","color":"#d2190c","strokeWidth":2.3},
 "encoding":{
  "x":{"field":"x","type":"quantitative","scale":{"domain":[0.24,28.53],"nice":false,"zero":false},
   "axis":{"orient":"bottom","values":[5,10,15,20,25],"grid":false,"ticks":false,"tickSize":0,"domainColor":"black","domainWidth":2,
    "labelFont":"Lato","labelFontSize":30,"labelFontWeight":300,"labelColor":"black","labelPadding":25,"labelFlush":false,"labelOverlap":false,
    "title":"Wavelength (microns)","titleFont":"Open Sans","titleFontSize":52,"titleFontWeight":300,"titleColor":"black","titleX":631,"titleY":109,"titleAlign":"center","titleBaseline":"alphabetic"}},
  "y":{"field":"y","type":"quantitative","scale":{"domain":[-5.5,13],"nice":false,"zero":false},
   "axis":{"orient":"left","values":[-5,0,5,10],"grid":false,"ticks":false,"tickSize":0,"domainColor":"black","domainWidth":2,
    "labelFont":"Lato","labelFontSize":30,"labelFontWeight":300,"labelColor":"black","labelPadding":12,"labelFlush":false,"labelOverlap":false,
    "title":"Spectral Signal Strength","titleFont":"Open Sans","titleFontSize":49,"titleFontWeight":300,"titleColor":"black","titleX":-118,"titleY":405,"titleAngle":270,"titleAlign":"center","titleBaseline":"middle"}}}},
{"data":{"name":"segs"},"transform":[{"filter":"datum.k !== 'lrs' && datum.k !== 'dash' && datum.k !== 'g'"}],"mark":{"type":"rule","strokeWidth":2.5},
 "encoding":{"x":{"field":"x","type":"quantitative","scale":{"domain":[0.24,28.53],"nice":false,"zero":false},
   "axis":{"orient":"top","values":[1,2,3,4,6,7,8,9,11,12,13,14,16,17,18,19,21,22,23,24,26,27,28],"tickSize":-7,"labels":false,"title":null,"grid":false,"domain":false,"tickWidth":2,"tickColor":"black"}},"x2":{"field":"x2"},
  "y":{"field":"y","type":"quantitative","scale":{"domain":[-5.5,13],"nice":false,"zero":false},"axis":null},
  "color":{"field":"k","type":"nominal","legend":null,"scale":{"domain":["title","lrs","dash","c1","c2","c3","c4","b","p","g","r"],"range":["#000000","#000000","#555555","#2323c0","#3cc81e","#c8d232","#d2190c","#1c1cd0","#8a22c8","#3cc81e","#d2190c"]}}}},
{"data":{"name":"segs"},"transform":[{"filter":"datum.k === 'g'"}],"mark":{"type":"rule","color":"#3cc81e","strokeWidth":2.5,"strokeDash":[10,8]},
 "encoding":{"x":{"field":"x","type":"quantitative","scale":{"domain":[0.24,28.53],"nice":false,"zero":false},
   "axis":{"orient":"bottom","values":[1,2,3,4,6,7,8,9,11,12,13,14,16,17,18,19,21,22,23,24,26,27,28],"tickSize":-7,"labels":false,"title":null,"grid":false,"domain":false,"tickWidth":2,"tickColor":"black"}},"x2":{"field":"x2"},
  "y":{"field":"y","type":"quantitative","scale":{"domain":[-5.5,13],"nice":false,"zero":false},"axis":null}}},
{"data":{"name":"mod"},"transform":[{"filter":"datum.s === 'b' && isValid(datum.e)"}],
 "mark":{"type":"errorbar","ticks":{"color":"#1c1cd0","opacity":1},"rule":{"color":"#1c1cd0"},"size":17,"thickness":1.5,"color":"#1c1cd0"},
 "encoding":{"x":{"field":"x","type":"quantitative","scale":{"domain":[0.24,28.53],"nice":false,"zero":false},"axis":null},
  "y":{"field":"y","type":"quantitative","scale":{"domain":[-5.5,13],"nice":false,"zero":false},"axis":null},"yError":{"field":"e"}}},
{"data":{"name":"mod"},"transform":[{"filter":"datum.s === 'b'"}],"mark":{"type":"line","color":"#1c1cd0","strokeWidth":2.6},
 "encoding":{"x":{"field":"x","type":"quantitative","scale":{"domain":[0.24,28.53],"nice":false,"zero":false},"axis":null},
  "y":{"field":"y","type":"quantitative","scale":{"domain":[-5.5,13],"nice":false,"zero":false},"axis":null}}},
{"data":{"name":"mod"},"transform":[{"filter":"datum.s === 'p' && isValid(datum.e)"}],
 "mark":{"type":"errorbar","ticks":{"color":"#8a22c8","opacity":1},"rule":{"color":"#8a22c8"},"size":17,"thickness":1.5,"color":"#8a22c8"},
 "encoding":{"x":{"field":"x","type":"quantitative","scale":{"domain":[0.24,28.53],"nice":false,"zero":false},"axis":null},
  "y":{"field":"y","type":"quantitative","scale":{"domain":[-5.5,13],"nice":false,"zero":false},"axis":null},"yError":{"field":"e"}}},
{"data":{"name":"mod"},"transform":[{"filter":"datum.s === 'p'"}],"mark":{"type":"line","color":"#8a22c8","strokeWidth":2.6},
 "encoding":{"x":{"field":"x","type":"quantitative","scale":{"domain":[0.24,28.53],"nice":false,"zero":false},"axis":null},
  "y":{"field":"y","type":"quantitative","scale":{"domain":[-5.5,13],"nice":false,"zero":false},"axis":null}}},
{"data":{"name":"mod"},"transform":[{"filter":"datum.s === 'g' && isValid(datum.e)"}],
 "mark":{"type":"errorbar","ticks":{"color":"#3cc81e","opacity":1},"rule":{"color":"#3cc81e"},"size":17,"thickness":1.5,"color":"#3cc81e"},
 "encoding":{"x":{"field":"x","type":"quantitative","scale":{"domain":[0.24,28.53],"nice":false,"zero":false},"axis":null},
  "y":{"field":"y","type":"quantitative","scale":{"domain":[-5.5,13],"nice":false,"zero":false},"axis":null},"yError":{"field":"e"}}},
{"data":{"name":"mod"},"transform":[{"filter":"datum.s === 'g'"}],"mark":{"type":"line","color":"#3cc81e","strokeWidth":2.6,"strokeDash":[10,8]},
 "encoding":{"x":{"field":"x","type":"quantitative","scale":{"domain":[0.24,28.53],"nice":false,"zero":false},"axis":null},
  "y":{"field":"y","type":"quantitative","scale":{"domain":[-5.5,13],"nice":false,"zero":false},"axis":null}}},
{"data":{"name":"obs"},"mark":{"type":"errorbar","ticks":{"color":"black","opacity":1},"rule":{"color":"black"},"size":18,"thickness":2,"color":"black"},
 "encoding":{"x":{"field":"x","type":"quantitative","scale":{"domain":[0.24,28.53],"nice":false,"zero":false},"axis":null},
  "y":{"field":"ylo","type":"quantitative","scale":{"domain":[-5.5,13],"nice":false,"zero":false},"axis":null},"y2":{"field":"yhi"}}},
{"data":{"name":"obs"},"mark":{"type":"errorbar","ticks":{"color":"black","opacity":1},"rule":{"color":"black"},"size":12,"thickness":2,"color":"black"},
 "encoding":{"y":{"field":"y","type":"quantitative","scale":{"domain":[-5.5,13],"nice":false,"zero":false},"axis":null},
  "x":{"field":"xlo","type":"quantitative","scale":{"domain":[0.24,28.53],"nice":false,"zero":false},"axis":null},"x2":{"field":"xhi"}}},
{"data":{"name":"obs"},"mark":{"type":"point","shape":"circle","filled":true,"color":"black","size":150,"opacity":1},
 "encoding":{"x":{"field":"x","type":"quantitative","scale":{"domain":[0.24,28.53],"nice":false,"zero":false},"axis":null},
  "y":{"field":"y","type":"quantitative","scale":{"domain":[-5.5,13],"nice":false,"zero":false},"axis":null}}},
{"data":{"name":"notes"},"transform":[{"filter":"datum.k === 'title'"}],"mark":{"type":"text","font":"DejaVu Sans","fontSize":35,"color":"black","align":"center","baseline":"middle"},
 "encoding":{"x":{"field":"x","type":"quantitative","scale":{"domain":[0.24,28.53],"nice":false,"zero":false},"axis":null},
  "y":{"field":"y","type":"quantitative","scale":{"domain":[-5.5,13],"nice":false,"zero":false},"axis":null},"text":{"field":"t"}}},
{"data":{"name":"notes"},"transform":[{"filter":"datum.k === 'lrs'"}],"mark":{"type":"text","font":"DejaVu Sans","fontSize":20,"color":"black","align":"center","baseline":"middle"},
 "encoding":{"x":{"field":"x","type":"quantitative","scale":{"domain":[0.24,28.53],"nice":false,"zero":false},"axis":null},
  "y":{"field":"y","type":"quantitative","scale":{"domain":[-5.5,13],"nice":false,"zero":false},"axis":null},"text":{"field":"t"}}},
{"data":{"name":"notes"},"transform":[{"filter":"datum.k === 'c1' || datum.k === 'c2' || datum.k === 'c3' || datum.k === 'c4'"}],"mark":{"type":"text","font":"DejaVu Sans","fontSize":19,"align":"center","baseline":"middle"},
 "encoding":{"x":{"field":"x","type":"quantitative","scale":{"domain":[0.24,28.53],"nice":false,"zero":false},"axis":null},
  "y":{"field":"y","type":"quantitative","scale":{"domain":[-5.5,13],"nice":false,"zero":false},"axis":null},"text":{"field":"t"},
  "color":{"field":"k","type":"nominal","legend":null,"scale":{"domain":["title","lrs","dash","c1","c2","c3","c4","b","p","g","r"],"range":["#000000","#000000","#555555","#2323c0","#3cc81e","#c8d232","#d2190c","#1c1cd0","#8a22c8","#3cc81e","#d2190c"]}}}},
{"data":{"name":"notes"},"transform":[{"filter":"datum.k === 'b' || datum.k === 'p' || datum.k === 'g' || datum.k === 'r'"}],"mark":{"type":"text","font":"DejaVu Sans","fontSize":25,"align":"left","baseline":"middle"},
 "encoding":{"x":{"field":"x","type":"quantitative","scale":{"domain":[0.24,28.53],"nice":false,"zero":false},"axis":null},
  "y":{"field":"y","type":"quantitative","scale":{"domain":[-5.5,13],"nice":false,"zero":false},"axis":null},"text":{"field":"t"},
  "color":{"field":"k","type":"nominal","legend":null,"scale":{"domain":["title","lrs","dash","c1","c2","c3","c4","b","p","g","r"],"range":["#000000","#000000","#555555","#2323c0","#3cc81e","#c8d232","#d2190c","#1c1cd0","#8a22c8","#3cc81e","#d2190c"]}}}},
{"data":{"name":"ring"},"mark":{"type":"point","shape":"M1,0C1,0.58,0.5523,1.05,0,1.05C-0.5523,1.05,-1,0.58,-1,0C-1,-0.58,-0.5523,-1.05,0,-1.05C0.5523,-1.05,1,-0.58,1,0Z","size":106276,"filled":false,"stroke":"#5c1c5c","strokeWidth":25,"opacity":1},
 "encoding":{"x":{"field":"x","type":"quantitative","scale":{"domain":[0.24,28.53],"nice":false,"zero":false},"axis":null},
  "y":{"field":"y","type":"quantitative","scale":{"domain":[-5.5,13],"nice":false,"zero":false},"axis":null}}},
{"data":{"name":"ring"},"mark":{"type":"point","shape":"M1,0C1,0.58,0.5523,1.05,0,1.05C-0.5523,1.05,-1,0.58,-1,0C-1,-0.58,-0.5523,-1.05,0,-1.05C0.5523,-1.05,1,-0.58,1,0Z","size":106276,"filled":false,"stroke":"#cc44bb","strokeWidth":22,"opacity":1},
 "encoding":{"x":{"field":"x","type":"quantitative","scale":{"domain":[0.24,28.53],"nice":false,"zero":false},"axis":null},
  "y":{"field":"y","type":"quantitative","scale":{"domain":[-5.5,13],"nice":false,"zero":false},"axis":null}}},
{"data":{"name":"box"},"mark":{"type":"rect","color":"white","opacity":1},
 "encoding":{"x":{"field":"x","type":"quantitative","scale":{"domain":[0.24,28.53],"nice":false,"zero":false},"axis":null},"x2":{"field":"x2"},
  "y":{"field":"y","type":"quantitative","scale":{"domain":[-5.5,13],"nice":false,"zero":false},"axis":null},"y2":{"field":"y2"}}},
{"data":{"name":"sil"},"mark":{"type":"text","font":"Open Sans","fontSize":35,"fontWeight":800,"color":"#cc44bb","align":"left","baseline":"middle"},
 "encoding":{"x":{"field":"x","type":"quantitative","scale":{"domain":[0.24,28.53],"nice":false,"zero":false},"axis":null},
  "y":{"field":"y","type":"quantitative","scale":{"domain":[-5.5,13],"nice":false,"zero":false},"axis":null},"text":{"field":"t"}}}
]
}
